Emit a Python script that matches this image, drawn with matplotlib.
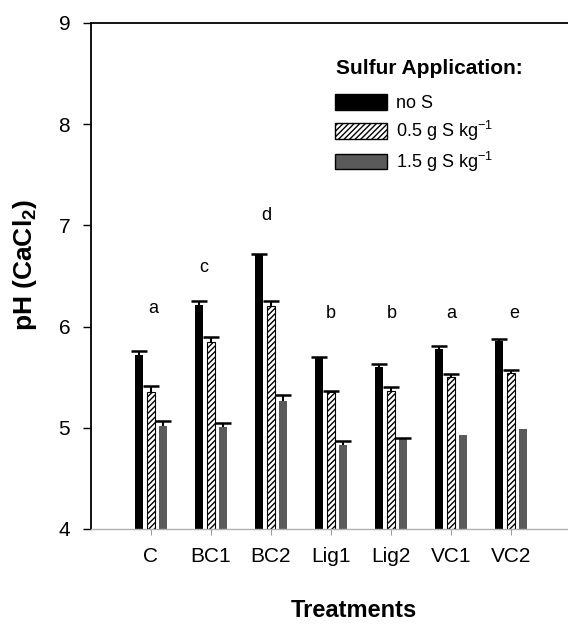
import numpy as np
import matplotlib
matplotlib.use("Agg")
import matplotlib.pyplot as plt
from matplotlib.patches import Patch

plt.rcParams['font.family'] = ['Liberation Sans', 'DejaVu Sans']
plt.rcParams['mathtext.fontset'] = 'custom'
plt.rcParams['mathtext.rm'] = 'Liberation Sans'
plt.rcParams['mathtext.bf'] = 'Liberation Sans:bold'
plt.rcParams['hatch.linewidth'] = 1.0

# data
treatments = ["C", "BC1", "BC2", "Lig1", "Lig2", "VC1", "VC2"]
no_s = [5.72, 6.21, 6.71, 5.69, 5.60, 5.78, 5.86]
s05 = [5.35, 5.85, 6.20, 5.35, 5.36, 5.50, 5.54]
s15 = [5.02, 5.01, 5.26, 4.83, 4.89, 4.93, 4.99]
err_no_s = [0.04, 0.04, 0.01, 0.01, 0.03, 0.03, 0.02]
err_s05 = [0.06, 0.05, 0.05, 0.01, 0.04, 0.03, 0.03]
err_s15 = [0.05, 0.04, 0.06, 0.04, 0.01, 0.0, 0.0]
letters = ["a", "c", "d", "b", "b", "a", "e"]
letter_y = [6.18, 6.58, 7.10, 6.13, 6.13, 6.13, 6.13]
letter_dx = [0.03, -0.12, -0.08, 0.0, 0.02, 0.0, 0.05]
series_labels = ["no S", r"0.5 g S kg$^{-1}$", r"1.5 g S kg$^{-1}$"]

fig = plt.figure(figsize=(5.68, 6.26), dpi=100)
ax = fig.add_axes([91 / 568, 1 - 529 / 626, 480 / 568, (529 - 23) / 626])

x = np.arange(1, len(treatments) + 1)
w = 0.135
off = 0.2

ax.bar(x - off, no_s, w, color='black', zorder=2)
ax.bar(x, s05, w, color='white', edgecolor='black', linewidth=0.8, hatch='//////', zorder=2)
ax.bar(x + off, s15, w, color='#5a5a5a', zorder=2)


# upper error bars only (no cap where error is zero)
def upper_bars(xs, vals, errs):
    vals = np.array(vals, dtype=float)
    errs = np.array(errs, dtype=float)
    vals[errs == 0] = np.nan
    eb = ax.errorbar(xs, vals, yerr=[np.zeros_like(errs), errs], fmt='none',
                     ecolor='black', elinewidth=1.5, capsize=6, capthick=1.8, zorder=3)
    eb.lines[1][0].set_visible(False)


upper_bars(x - off, no_s, err_no_s)
upper_bars(x, s05, err_s05)
upper_bars(x + off, s15, err_s15)

for xi, dx, yl, t in zip(x, letter_dx, letter_y, letters):
    ax.text(xi + dx, yl, t, ha='center', va='center', fontsize=13)

ax.set_xlim(0, 8)
ax.set_ylim(4, 9)
ax.set_yticks([4, 5, 6, 7, 8, 9])
ax.set_xticks(x)
ax.set_xticklabels(treatments, fontsize=15)
ax.tick_params(axis='y', labelsize=15, length=6, width=1, direction='out', pad=9)
ax.tick_params(axis='x', length=4, width=0.6, color='#888888', pad=9)

ax.spines['right'].set_visible(False)
ax.spines['left'].set_linewidth(1.3)
ax.spines['top'].set_linewidth(1.3)
ax.spines['bottom'].set_color('#b0b0b0')
ax.spines['bottom'].set_linewidth(1.0)

ax.set_ylabel(r"pH (CaCl$_\mathbf{2}$)", fontsize=19, fontweight='bold', labelpad=14)
ax.yaxis.label.set_y((529 - 265) / 506)
ax.set_xlabel("Treatments", fontsize=17, fontweight='bold')
ax.xaxis.set_label_coords((354 - 91) / 480, -0.138)

# legend title drawn separately so the gap under it matches
fig.text(336 / 568, 1 - 68 / 626, "Sulfur Application:", fontsize=15,
         fontweight='bold', ha='left', va='center')
handles = [Patch(facecolor='black', edgecolor='black'),
           Patch(facecolor='white', edgecolor='black', hatch='//////'),
           Patch(facecolor='#5a5a5a', edgecolor='black')]
leg = ax.legend(handles, series_labels,
                loc='upper left', bbox_to_anchor=(335 / 568, 1 - 94 / 626),
                bbox_transform=fig.transFigure, frameon=False, fontsize=13,
                handlelength=2.9, handleheight=0.95, labelspacing=0.38,
                handletextpad=0.5, borderpad=0, borderaxespad=0)

plt.savefig("out.png", dpi=100)
